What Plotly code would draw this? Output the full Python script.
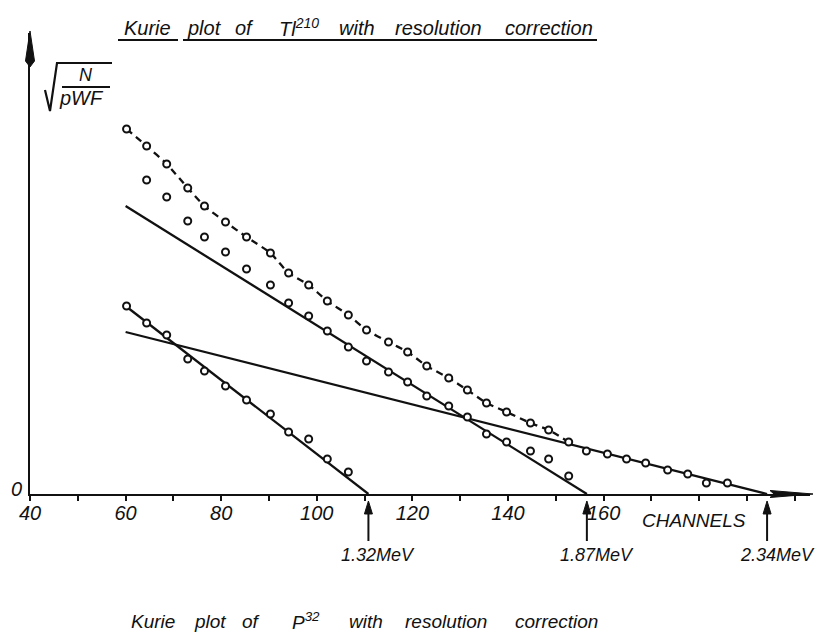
import plotly.graph_objects as go

# ---------------- data ----------------
channels = [60.2, 64.4, 68.6, 73.0, 76.5, 80.9, 85.3, 90.3, 94.1, 98.3, 102.2,
            106.6, 110.4, 115.0, 119.0, 123.0, 127.6, 131.5, 135.5, 139.7, 144.7,
            148.5, 152.7, 156.4, 160.8, 164.8, 168.8, 173.4, 177.6, 181.5, 185.9]
# measured total spectrum sqrt(N/pWF)
total = [36.5, 34.8, 33.0, 30.6, 28.8, 27.2, 25.7, 24.1, 22.1, 20.9, 19.3,
         17.9, 16.4, 15.2, 14.2, 12.8, 11.6, 10.4, 9.1, 8.2, 7.1,
         6.4, 5.2, 4.3, 4.0, 3.5, 3.1, 2.4, 2.0, 1.1, 1.1]
# after subtraction of the 2.34 MeV component (channels[1:23])
comp_187 = [31.4, 29.7, 27.3, 25.7, 24.2, 22.5, 20.9, 19.1, 17.8, 16.3, 14.7,
            13.3, 12.2, 11.2, 9.8, 8.8, 7.7, 6.0, 5.2, 4.3, 3.5, 1.8]
# after subtraction of the 1.87 MeV component (channels[0:12])
comp_132 = [18.8, 17.1, 15.9, 13.5, 12.3, 10.8, 9.4, 8.0, 6.2, 5.5, 3.5, 2.2]

energy_labels = ["1.32MeV", "1.87MeV", "2.34MeV"]
endpoints = [110.8, 156.5, 194.2]          # channel of each end point
fit_start = 60.0
fit_start_values = [18.8, 28.8, 16.2]      # straight-line fits at channel 60

tick_vals = [40, 60, 80, 100, 120, 140, 160]
tick_text = ["40", "60", "80", "100", "120", "140", "160"]

# ---------------- figure ----------------
W, H = 815, 641
ML, MR, MT, MB = 30, 5, 33, 147
PW, PH = W - ML - MR, H - MT - MB
PX_PER_CH = 4.78


def px_x(p):
    return (p - ML) / PW


def px_y(p):
    return (H - MB - p) / PH


BLACK = "#111111"
FONT = "Liberation Sans"

fig = go.Figure()

# straight-line fits
for e, v in zip(endpoints, fit_start_values):
    fig.add_trace(go.Scatter(x=[fit_start, e], y=[v, 0], mode="lines",
                             line=dict(color=BLACK, width=2.3),
                             hoverinfo="skip", showlegend=False))

# dashed curve through measured points
n_dash = 23
fig.add_trace(go.Scatter(x=channels[:n_dash], y=total[:n_dash], mode="lines",
                         line=dict(color=BLACK, width=2.3, dash="7px,5px",
                                   shape="spline", smoothing=0.6),
                         hoverinfo="skip", showlegend=False))

marker = dict(symbol="circle", size=7, color="white",
              line=dict(color=BLACK, width=2))
fig.add_trace(go.Scatter(x=channels, y=total, mode="markers", marker=marker,
                         showlegend=False))
fig.add_trace(go.Scatter(x=channels[1:1 + len(comp_187)], y=comp_187,
                         mode="markers", marker=marker, showlegend=False))
fig.add_trace(go.Scatter(x=channels[:len(comp_132)], y=comp_132,
                         mode="markers", marker=marker, showlegend=False))

annotations = []
shapes = []

# top title words
title_words = [("Kurie", 122), ("plot", 185), ("of", 233),
               ("Tl<sup>210</sup>", 277), ("with", 337),
               ("resolution", 393), ("correction", 503)]
for t, left in title_words:
    annotations.append(dict(text=t, x=px_x(left), y=px_y(28), xref="paper",
                            yref="paper", xanchor="left", yanchor="middle",
                            showarrow=False,
                            font=dict(family=FONT, size=20, color=BLACK,
                                      style="italic")))
for a, b in [(118, 178), (183, 597)]:
    shapes.append(dict(type="line", xref="paper", yref="paper",
                       x0=px_x(a), x1=px_x(b), y0=px_y(40), y1=px_y(40),
                       line=dict(color=BLACK, width=2)))

# bottom caption words
cap_words = [("Kurie", 129), ("plot", 192), ("of", 240),
             ("P<sup>32</sup>", 290), ("with", 347),
             ("resolution", 403), ("correction", 513)]
for t, left in cap_words:
    annotations.append(dict(text=t, x=px_x(left), y=px_y(621), xref="paper",
                            yref="paper", xanchor="left", yanchor="middle",
                            showarrow=False,
                            font=dict(family=FONT, size=19, color=BLACK,
                                      style="italic")))

# y label sqrt(N / pWF)
annotations.append(dict(text="N", x=px_x(86), y=px_y(75), xref="paper",
                        yref="paper", xanchor="center", yanchor="middle",
                        showarrow=False,
                        font=dict(family=FONT, size=18, color=BLACK, style="italic")))
annotations.append(dict(text="pWF", x=px_x(81), y=px_y(98), xref="paper",
                        yref="paper", xanchor="center", yanchor="middle",
                        showarrow=False,
                        font=dict(family=FONT, size=20, color=BLACK, style="italic")))
shapes.append(dict(type="line", xref="paper", yref="paper",
                   x0=px_x(62), x1=px_x(110), y0=px_y(87), y1=px_y(87),
                   line=dict(color=BLACK, width=1.8)))
rad = [(45, 90), (50, 111), (57, 63), (112, 63)]
path = "M " + " L ".join(f"{px_x(a):.5f},{px_y(b):.5f}" for a, b in rad)
shapes.append(dict(type="path", xref="paper", yref="paper", path=path,
                   line=dict(color=BLACK, width=2.2)))

# axis arrowheads
yarrow = [(30, 31), (34.5, 61), (30, 67), (25.5, 61)]
xarrow = [(813, 494), (770, 490.5), (774, 494), (770, 497.5)]
for pts in (yarrow, xarrow):
    p = "M " + " L ".join(f"{px_x(a):.5f},{px_y(b):.5f}" for a, b in pts) + " Z"
    shapes.append(dict(type="path", xref="paper", yref="paper", path=p,
                       fillcolor=BLACK, line=dict(color=BLACK, width=1)))

# "0" and CHANNELS
annotations.append(dict(text="0", x=px_x(16), y=px_y(489), xref="paper",
                        yref="paper", xanchor="center", yanchor="middle",
                        showarrow=False,
                        font=dict(family=FONT, size=20, color=BLACK, style="italic")))
annotations.append(dict(text="CHANNELS", x=px_x(694), y=px_y(520), xref="paper",
                        yref="paper", xanchor="center", yanchor="middle",
                        showarrow=False,
                        font=dict(family=FONT, size=19, color=BLACK, style="italic")))

# end-point arrows (line + filled head) and energies
half = 4.0 / PX_PER_CH
for lab, e in zip(energy_labels, endpoints):
    shapes.append(dict(type="line", xref="x", yref="paper",
                       x0=e, x1=e, y0=px_y(541), y1=px_y(510),
                       line=dict(color=BLACK, width=2)))
    head = (f"M {e:.3f},{px_y(501):.5f} L {e - half:.3f},{px_y(514):.5f} "
            f"L {e + half:.3f},{px_y(514):.5f} Z")
    shapes.append(dict(type="path", xref="x", yref="paper", path=head,
                       fillcolor=BLACK, line=dict(color=BLACK, width=1)))
    annotations.append(dict(text=lab, x=e, y=px_y(555), xref="x", yref="paper",
                            xanchor="center", yanchor="middle", xshift=10,
                            showarrow=False,
                            font=dict(family=FONT, size=18, color=BLACK,
                                      style="italic")))

fig.update_layout(
    width=W, height=H,
    margin=dict(l=ML, r=MR, t=MT, b=MB),
    paper_bgcolor="white", plot_bgcolor="white",
    showlegend=False,
    annotations=annotations, shapes=shapes,
    xaxis=dict(range=[40, 40 + PW / PX_PER_CH], showgrid=False, zeroline=False,
               showline=True, linecolor=BLACK, linewidth=2,
               tickmode="array", tickvals=tick_vals, ticktext=tick_text,
               ticks="outside", ticklen=5, tickwidth=2, tickcolor=BLACK,
               tickfont=dict(family=FONT, size=20, color=BLACK, style="italic"),
               ticklabelstandoff=-5,
               minor=dict(tickmode="linear", tick0=40, dtick=10, ticks="outside",
                          ticklen=5, tickwidth=2, tickcolor=BLACK,
                          showgrid=False)),
    yaxis=dict(range=[0, PH / 10], showgrid=False, zeroline=False,
               showline=True, linecolor=BLACK, linewidth=2,
               showticklabels=False, ticks=""),
)

fig.write_html("out.html")
